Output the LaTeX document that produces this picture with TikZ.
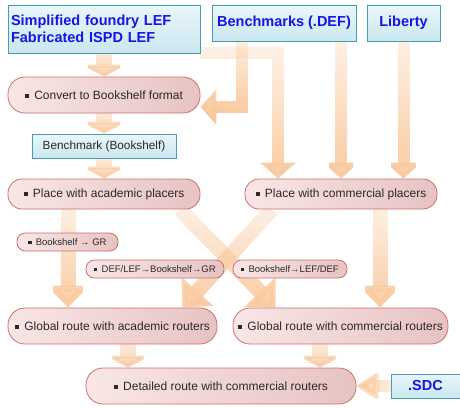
\documentclass[tikz,border=0pt]{standalone}
\usepackage{fontspec}
\setmainfont{Liberation Sans}
\usetikzlibrary{arrows.meta,backgrounds,fadings}
\definecolor{boxline}{RGB}{75,155,175}
\definecolor{boxtop}{RGB}{234,246,250}
\definecolor{boxbot}{RGB}{202,231,239}
\definecolor{pilltop}{RGB}{249,230,230}
\definecolor{pillbot}{RGB}{231,195,195}
\definecolor{pillline}{RGB}{205,112,108}
\definecolor{fatcol}{RGB}{249,201,158}
\definecolor{inputblue}{RGB}{20,20,235}
\definecolor{steptext}{RGB}{45,40,40}
\tikzfading[name=tailfade, top color=transparent!75, bottom color=transparent!0]
\newcommand{\sqbul}{\rule[0.12em]{0.32em}{0.32em}\hspace{0.45em}}

\begin{document}
\begin{tikzpicture}[x=1pt, y=1pt,
	inputbox/.style={draw=boxline, line width=0.8pt, top color=boxtop, bottom color=boxbot,
		inner sep=3pt, text=inputblue, font=\fontsize{14.5}{17.5}\selectfont\bfseries},
	pill/.style={draw=pillline, line width=0.8pt, left color=pilltop, right color=pillbot,
		text=steptext, inner sep=2pt},
	stepbox/.style={pill, minimum height=36pt, rounded corners=17pt, font=\fontsize{12}{14}\selectfont},
	placebox/.style={pill, minimum height=30pt, rounded corners=14pt, font=\fontsize{12}{14}\selectfont},
	convbox/.style={pill, minimum height=18pt, rounded corners=8.5pt, font=\fontsize{9.5}{11}\selectfont},
	fatarrow/.style={draw=fatcol, path fading=tailfade, line width=16pt, -{Triangle[width=46pt,length=12pt]}},
	slimarrow/.style={draw=fatcol, path fading=tailfade, line width=12pt, -{Triangle[width=35pt,length=16pt]}},
	routearrow/.style={draw=fatcol, path fading=tailfade, line width=15pt, -{Triangle[width=42pt,length=22pt]}}]

	\useasboundingbox (0,0) rectangle (460,408);

	% inputs
	\node[inputbox, minimum width=192pt, minimum height=48pt, align=left, text width=186pt] (lef) at (104,379)
		{Simplified foundry LEF\\Fabricated ISPD LEF};
	\node[inputbox, minimum width=144pt, minimum height=36pt] (bench) at (284,385) {Benchmarks (.DEF)};
	\node[inputbox, minimum width=73pt, minimum height=36pt] (lib) at (403.5,385) {Liberty};
	\node[inputbox, minimum width=69pt, minimum height=24pt] (sdc) at (425.5,22) {.SDC};

	% flow steps
	\node[stepbox, minimum width=192pt] (conv) at (104,313) {\sqbul Convert to Bookshelf format};
	\node[inputbox, text=steptext, font=\fontsize{11.8}{13}\selectfont, minimum width=144pt, minimum height=24pt]
		(bsh) at (104,262) {Benchmark (Bookshelf)};
	\node[placebox, minimum width=192pt] (placeA) at (104,214) {\sqbul Place with academic placers};
	\node[placebox, minimum width=192pt] (placeC) at (341,214) {\sqbul Place with commercial placers};

	% format conversions
	\node[convbox, minimum width=101pt] (cvtA) at (67.5,166) {\sqbul Bookshelf → GR};
	\node[convbox, minimum width=138pt] (cvtB) at (155,139) {\sqbul DEF/LEF→Bookshelf→GR};
	\node[convbox, minimum width=114pt] (cvtC) at (290,139) {\sqbul Bookshelf→LEF/DEF};

	% routing
	\node[stepbox, minimum width=209pt] (routeA) at (112.5,82) {\sqbul Global route with academic routers};
	\node[stepbox, minimum width=215pt] (routeC) at (340.5,82) {\sqbul Global route with commercial routers};
	\node[stepbox, minimum width=270pt] (detail) at (221,22) {\sqbul Detailed route with commercial routers\hspace{14pt}};

	\coordinate (bA) at ([xshift=-42.5pt]bench.south);
	\coordinate (pA) at ([xshift=-36pt]placeA.south);
	\coordinate (pC) at ([xshift=39pt]placeC.south);
	\coordinate (rA) at ([xshift=15.5pt]routeA.south);
	\coordinate (rC) at ([xshift=-20.5pt]routeC.south);

	\begin{scope}[on background layer]
		\draw[fatarrow] (lef.south) -- (conv.north);
		\draw[fatarrow] (conv.south) -- (bsh.north);
		\draw[fatarrow] (bsh.south) -- (placeA.north);
		\draw[slimarrow] (bA) |- ([yshift=-12pt]conv.east);
		\draw[slimarrow] (lef.south east) -| ([xshift=-63pt]placeC.north);
		\draw[slimarrow] (bench.south -| placeC.north) -- (placeC.north);
		\draw[slimarrow] (lib.south) -- (lib.south |- placeC.north);
		\draw[routearrow] (pA) -- (pA |- routeA.north);
		\draw[routearrow] ([xshift=76pt]placeA.south) -- ([xshift=-65pt]routeC.north);
		\draw[routearrow] ([xshift=-69pt]placeC.south) -- ([xshift=70pt]routeA.north);
		\draw[routearrow] (pC) -- (pC |- routeC.north);
		\draw[fatarrow] (rA) -- (rA |- detail.north);
		\draw[fatarrow] (rC) -- (rC |- detail.north);
		\draw[slimarrow, fading angle=-90, -{Triangle[width=28pt,length=22pt]}] (sdc.west) -- (detail.east);
	\end{scope}
\end{tikzpicture}
\end{document}
